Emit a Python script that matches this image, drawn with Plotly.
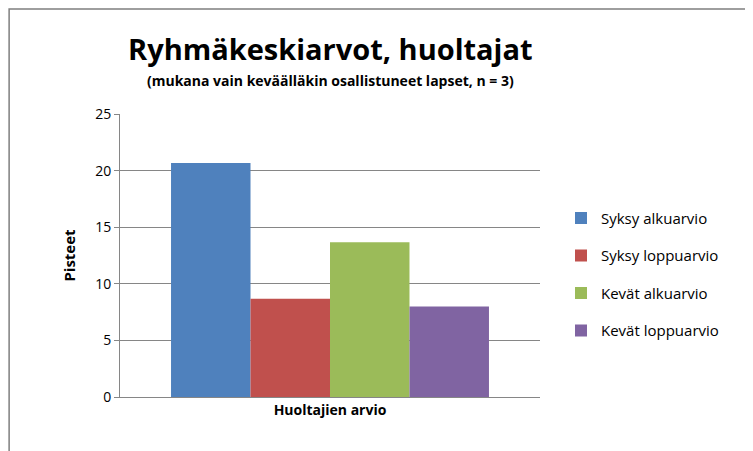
import plotly.graph_objects as go

category = ["Huoltajien arvio"]
series_names = ["Syksy alkuarvio", "Syksy loppuarvio", "Kevät alkuarvio", "Kevät loppuarvio"]
series_values = [20.67, 8.67, 13.67, 8.0]
colors = ["#4F81BD", "#C0504D", "#9BBB59", "#8064A2"]
y_ticks = [0, 5, 10, 15, 20, 25]

fig = go.Figure()
for name, val, col in zip(series_names, series_values, colors):
  fig.add_trace(go.Bar(x=category, y=[val], name=name, marker_color=col,
                       marker_line_width=0, legendgroup=name))

fig.update_layout(
  width=753, height=451,
  margin=dict(l=112, r=221, t=106, b=62),
  paper_bgcolor="white", plot_bgcolor="white",
  font=dict(family="Open Sans", color="black"),
  barmode="group", bargap=0.243, bargroupgap=0,
  showlegend=True,
  legend=dict(x=1.05, y=0.69, xanchor="left", yanchor="top",
              font=dict(size=15), tracegroupgap=15),
  annotations=[
    dict(text="<b>Ryhmäkeskiarvot, huoltajat</b>", x=0.5, y=1.233, xref="paper", yref="paper",
         xanchor="center", yanchor="middle", showarrow=False, font=dict(size=29)),
    dict(text="<b>(mukana vain keväälläkin osallistuneet lapset, n = 3)</b>", x=0.5, y=1.12,
         xref="paper", yref="paper", xanchor="center", yanchor="middle",
         showarrow=False, font=dict(size=14)),
  ],
  shapes=[dict(type="rect", xref="paper", yref="paper",
               x0=-0.264, y0=-0.216, x1=1.524, y1=1.371,
               line=dict(color="#7f7f7f", width=1.5))],
)

fig.update_yaxes(range=[0, 25], tickvals=y_ticks, showgrid=True, gridcolor="#868686",
                 gridwidth=1, showline=True, linecolor="#868686", ticks="outside",
                 ticklen=5, tickcolor="#868686", tickfont=dict(size=14),
                 title=dict(text="<b>Pisteet</b>", font=dict(size=15)), zeroline=False)
fig.update_xaxes(showline=True, linecolor="#868686", tickfont=dict(size=14),
                 tickprefix="<b>", ticksuffix="</b>")

fig.write_html("out.html")
